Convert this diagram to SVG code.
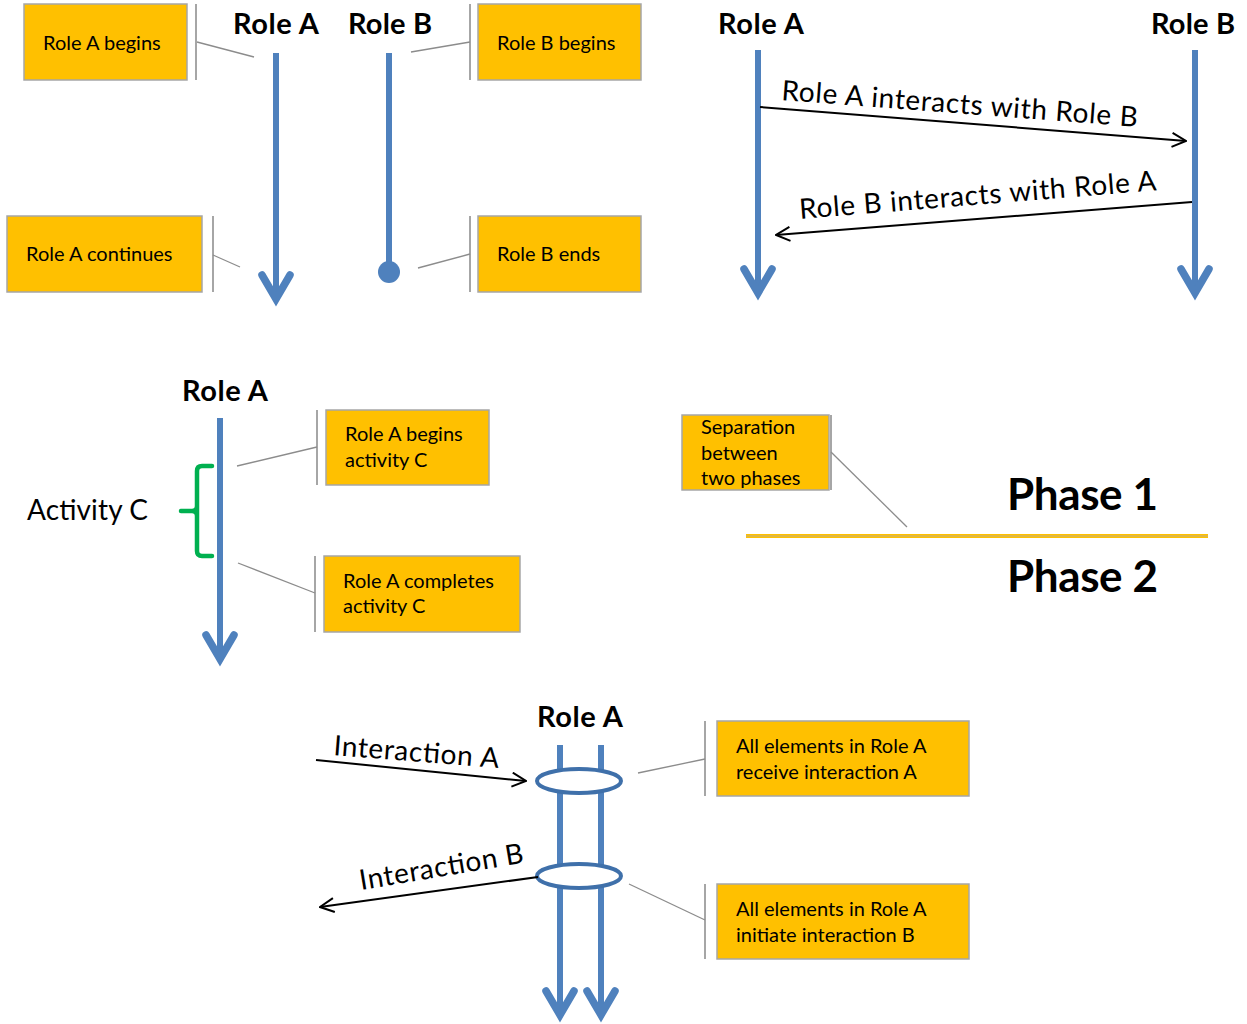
<svg xmlns="http://www.w3.org/2000/svg" xmlns:xlink="http://www.w3.org/1999/xlink" width="1247" height="1024" viewBox="0 0 1247 1024">
  <style>
    text { font-family: Lato, "Open Sans", "Liberation Sans", sans-serif; fill: #000; }
    .title { font-size: 29px; font-weight: bold; text-anchor: middle; }
    .phase { font-size: 44px; font-weight: bold; }
    .note { font-size: 20px; }
    .label { font-size: 28px; }
    .box { fill: #FFC000; stroke: #A6A6A6; stroke-width: 1.5; }
    .bracket { stroke: #A6A6A6; stroke-width: 2; fill: none; }
    .leader { stroke: #8C8C8C; stroke-width: 1.3; fill: none; }
    .life { stroke: #4F81BD; stroke-width: 6; fill: none; }
    .chev { stroke: #4F81BD; stroke-width: 7.5; fill: none; stroke-linejoin: miter; stroke-linecap: round; stroke-miterlimit: 10; }
    .msg { stroke: #000; stroke-width: 2; fill: none; marker-end: url(#open); }
    .ring { stroke: #3F70AA; stroke-width: 4; fill: #FFFFFF; }
    .brace { stroke: #00B050; stroke-width: 4.5; fill: none; stroke-linecap: round; stroke-linejoin: round; }
  </style>
  <defs>
    <marker id="open" viewBox="0 0 16 16" refX="15" refY="8" markerWidth="16" markerHeight="16" markerUnits="userSpaceOnUse" orient="auto">
      <path d="M1,1 L15,8 L1,15" stroke="#000" stroke-width="2" fill="none"/>
    </marker>
    <path id="chev" class="chev" d="M-14,-25 L0,-1 L14,-25"/>
  </defs>

  <rect width="1247" height="1024" fill="#FFFFFF"/>

  <!-- lifelines and messages -->
  <g id="connectors">
    <!-- panel 1 -->
    <line class="life" x1="276" y1="53" x2="276" y2="296"/>
    <use xlink:href="#chev" x="276" y="300"/>
    <line class="life" x1="389" y1="53" x2="389" y2="270"/>
    <circle cx="389" cy="272" r="11" fill="#4F81BD"/>
    <!-- panel 2 -->
    <line class="life" x1="758" y1="50" x2="758" y2="290"/>
    <use xlink:href="#chev" x="758" y="294"/>
    <line class="life" x1="1195" y1="50" x2="1195" y2="290"/>
    <use xlink:href="#chev" x="1195" y="294"/>
    <line class="msg" x1="760" y1="107" x2="1186" y2="141"/>
    <line class="msg" x1="1192" y1="202" x2="776" y2="235"/>
    <!-- panel 3 -->
    <line class="life" x1="220" y1="418" x2="220" y2="656"/>
    <use xlink:href="#chev" x="220" y="660"/>
    <path class="brace" d="M212,466 H202 Q197,466 197,471 V551 Q197,556 202,556 H212 M181,511 H192 Q197,511 197,506 M192,511 Q197,511 197,516"/>
    <!-- panel 4: phase separator -->
    <line x1="746" y1="536" x2="1208" y2="536" stroke="#FFC000" stroke-width="4"/>
    <line x1="746" y1="536" x2="1208" y2="536" stroke="#BFB08A" stroke-width="1"/>
    <!-- panel 5 -->
    <line class="life" x1="560" y1="745" x2="560" y2="1012"/>
    <use xlink:href="#chev" x="560" y="1016"/>
    <line class="life" x1="601" y1="745" x2="601" y2="1012"/>
    <use xlink:href="#chev" x="601" y="1016"/>
    <ellipse class="ring" cx="579" cy="781" rx="42" ry="12"/>
    <ellipse class="ring" cx="579" cy="876" rx="42" ry="12"/>
    <line class="msg" x1="316" y1="760" x2="526" y2="781"/>
    <line class="msg" x1="538" y1="877" x2="320" y2="907"/>

    <!-- callout leaders -->
    <path class="bracket" d="M196,4 V80"/><path class="leader" d="M197,42 L254,57"/>
    <path class="bracket" d="M470,4 V80"/><path class="leader" d="M470,42 L411,52"/>
    <path class="bracket" d="M213,216 V292"/><path class="leader" d="M213,255 L240,267"/>
    <path class="bracket" d="M470,216 V292"/><path class="leader" d="M470,254 L418,268"/>
    <path class="bracket" d="M317,410 V485"/><path class="leader" d="M317,447 L237,466"/>
    <path class="bracket" d="M315,556 V632"/><path class="leader" d="M315,593 L238,563"/>
    <path class="bracket" d="M831,415 V490"/><path class="leader" d="M831,452 L907,527"/>
    <path class="bracket" d="M705,721 V796"/><path class="leader" d="M705,759 L638,773"/>
    <path class="bracket" d="M705,884 V959"/><path class="leader" d="M705,920 L629,884"/>
  </g>

  <!-- role titles -->
  <g id="titles">
    <text class="title" x="276" y="34" textLength="86">Role A</text>
    <text class="title" x="390" y="34" textLength="84">Role B</text>
    <text class="title" x="761" y="34" textLength="86">Role A</text>
    <text class="title" x="1193" y="34" textLength="84">Role B</text>
    <text class="title" x="225" y="401" textLength="86">Role A</text>
    <text class="title" x="580" y="727" textLength="86">Role A</text>
  </g>

  <!-- message labels -->
  <g id="labels">
    <text class="label" transform="translate(781,100) rotate(4.3)" textLength="357">Role A interacts with Role B</text>
    <text class="label" transform="translate(800,219) rotate(-4.6)" textLength="358">Role B interacts with Role A</text>
    <text class="label" x="27" y="520" textLength="121">Activity C</text>
    <text class="label" transform="translate(333,755) rotate(4.5)" textLength="166">Interaction A</text>
    <text class="label" transform="translate(361,890) rotate(-9.5)" textLength="166">Interaction B</text>
    <text class="phase" x="1007" y="510" textLength="151">Phase 1</text>
    <text class="phase" x="1007" y="592" textLength="151">Phase 2</text>
  </g>

  <!-- annotation boxes -->
  <g id="note-a-begins">
    <rect class="box" x="24" y="4" width="163" height="76"/>
    <text class="note" x="43" y="50">Role A begins</text>
  </g>
  <g id="note-b-begins">
    <rect class="box" x="478" y="4" width="163" height="76"/>
    <text class="note" x="497" y="50">Role B begins</text>
  </g>
  <g id="note-a-continues">
    <rect class="box" x="7" y="216" width="195" height="76"/>
    <text class="note" x="26" y="261">Role A continues</text>
  </g>
  <g id="note-b-ends">
    <rect class="box" x="478" y="216" width="163" height="76"/>
    <text class="note" x="497" y="261">Role B ends</text>
  </g>
  <g id="note-begins-c">
    <rect class="box" x="326" y="410" width="163" height="75"/>
    <text class="note" x="345" y="441">Role A begins</text>
    <text class="note" x="345" y="467">activity C</text>
  </g>
  <g id="note-completes-c">
    <rect class="box" x="324" y="556" width="196" height="76"/>
    <text class="note" x="343" y="588">Role A completes</text>
    <text class="note" x="343" y="613">activity C</text>
  </g>
  <g id="note-separation">
    <rect class="box" x="682" y="415" width="147" height="75"/>
    <text class="note" x="701" y="434">Separation</text>
    <text class="note" x="701" y="460">between</text>
    <text class="note" x="701" y="485">two phases</text>
  </g>
  <g id="note-receive">
    <rect class="box" x="717" y="721" width="252" height="75"/>
    <text class="note" x="736" y="753">All elements in Role A</text>
    <text class="note" x="736" y="779">receive interaction A</text>
  </g>
  <g id="note-initiate">
    <rect class="box" x="717" y="884" width="252" height="75"/>
    <text class="note" x="736" y="916">All elements in Role A</text>
    <text class="note" x="736" y="942">initiate interaction B</text>
  </g>
</svg>
